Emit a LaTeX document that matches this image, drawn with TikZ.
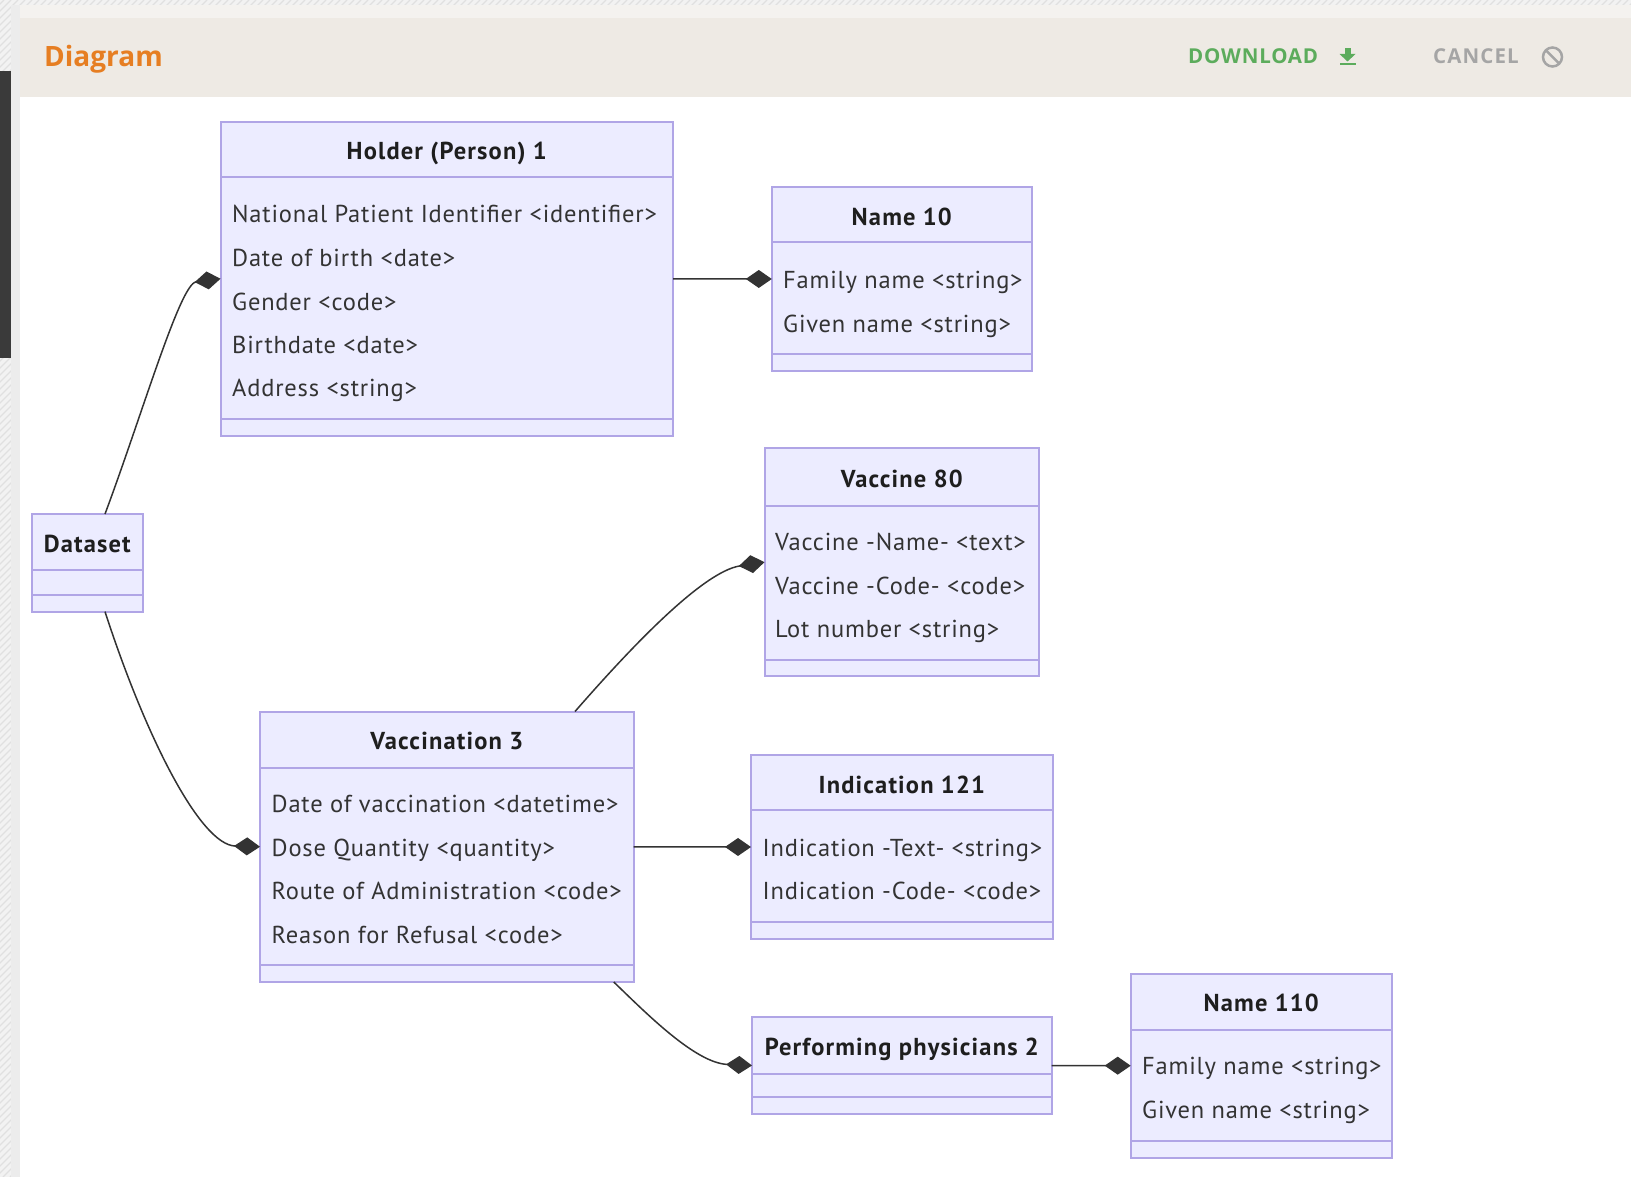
\documentclass[tikz,border=0pt]{standalone}
\usepackage{fontspec}
\setmainfont{PT Sans}
\newfontfamily\attrfamily[LetterSpace=3.3]{PT Sans}
\newfontfamily\titlefamily[LetterSpace=4.7]{PT Sans}
\newfontfamily\hdrfont{Open Sans}
\newfontfamily\btnfont[LetterSpace=4]{Open Sans}
\newfontfamily\btnfontb[LetterSpace=5.5]{Open Sans}
\usetikzlibrary{arrows.meta}
\definecolor{hatchbg}{RGB}{242,242,242}
\definecolor{hatchln}{RGB}{224,224,224}
\definecolor{panelband}{RGB}{236,236,236}
\definecolor{topband}{RGB}{244,242,239}
\definecolor{hdrbg}{RGB}{238,234,228}
\definecolor{darkbar}{RGB}{58,58,58}
\definecolor{hdrorange}{RGB}{230,126,34}
\definecolor{btngreen}{RGB}{92,172,92}
\definecolor{btngrey}{RGB}{165,165,165}
\definecolor{boxfill}{RGB}{236,236,255}
\definecolor{boxline}{RGB}{176,165,230}
\definecolor{attrcol}{RGB}{51,51,51}
\definecolor{titlecol}{RGB}{30,30,30}
\definecolor{conncol}{RGB}{51,51,51}
\newcommand\attrfnt{\attrfamily\fontsize{24.5}{28}\selectfont}
\newcommand\titlefnt{\titlefamily\bfseries\fontsize{24.5}{28}\selectfont}
\begin{document}
\begin{tikzpicture}[x=1pt,y=-1pt,
  classbox/.style={draw=boxline, fill=boxfill, line width=2pt, inner sep=0pt, outer sep=0pt},
  divider/.style={draw=boxline, line width=2pt},
  ttl/.style={anchor=base, yshift=-8.8pt, inner sep=0pt, font=\titlefnt, text=titlecol},
  attr/.style={anchor=base west, yshift=-9.5pt, inner sep=0pt, font=\attrfnt, text=attrcol},
  conn/.style={draw=conncol, line width=1.5pt, -{Diamond[length=26pt,width=18pt]}},
  btn/.style={anchor=base west, inner sep=0pt}
]
\useasboundingbox (0,0) rectangle (1631,1177);
% ---------- page background ----------
\fill[hatchbg] (0,0) rectangle (1631,1177);
\begin{scope}
  \clip (0,0) rectangle (11,1177) (0,0) rectangle (1631,5);
  \foreach \i in {-1180,-1173,...,1640} \draw[hatchln, line width=1.2pt] (\i,1177) -- ++(1177,-1177);
\end{scope}
\fill[panelband] (11,5) rectangle (20,1177);
\fill[topband] (20,5) rectangle (1631,18);
\fill[hdrbg] (20,18) rectangle (1631,97);
\fill[white] (20,97) rectangle (1631,1177);
\fill[darkbar] (0,71) rectangle (11,358);
% ---------- header ----------
\node[anchor=base west, inner sep=0pt, font=\hdrfont\bfseries\fontsize{28}{32}\selectfont, text=hdrorange] (hdr) at (44,67) {Diagram};
\node[btn, font=\btnfont\bfseries\fontsize{20.5}{24}\selectfont, text=btngreen] (dl) at (1188,63.3) {DOWNLOAD};
\node[btn, font=\btnfontb\bfseries\fontsize{20.5}{24}\selectfont, text=btngrey] (cn) at (1433,63.3) {CANCEL};
% download icon
\fill[btngreen] (1344.5,48) rectangle (1350.5,55);
\fill[btngreen] (1339.5,54) -- (1355.5,54) -- (1347.5,61.5) -- cycle;
\fill[btngreen] (1339.5,63) rectangle (1355.5,65.5);
% cancel icon
\draw[btngrey, line width=2.5pt] (1552.5,57) circle[radius=9.5];
\draw[btngrey, line width=2.5pt] (1545.8,50.3) -- (1559.2,63.7);
% ---------- Holder (Person) 1 ----------
\node[classbox, minimum width=452.5pt, minimum height=314.1pt] (holder) at (446.75,278.75) {};
\draw[divider] (220.5,176.8) -- (673,176.8);
\draw[divider] (220.5,419) -- (673,419);
\node[ttl] (holderT) at (446.75,150.8) {Holder (Person) 1};
\node[attr] (h1) at (232,213) {National Patient Identifier <identifier>};
\node[attr] (h2) at (232,257) {Date of birth <date>};
\node[attr] (h3) at (232,300.6) {Gender <code>};
\node[attr] (h4) at (232,344) {Birthdate <date>};
\node[attr] (h5) at (232,387) {Address <string>};
% ---------- Name 10 ----------
\node[classbox, minimum width=260pt, minimum height=184pt] (nameA) at (901.8,279) {};
\draw[divider] (771.8,242.4) -- (1031.8,242.4);
\draw[divider] (771.8,353.7) -- (1031.8,353.7);
\node[ttl] (nameAT) at (901.8,216.4) {Name 10};
\node[attr] (na1) at (783,278.8) {Family name <string>};
\node[attr] (na2) at (783,322.5) {Given name <string>};
% ---------- Vaccine 80 ----------
\node[classbox, minimum width=274.5pt, minimum height=227.7pt] (vaccine) at (901.75,562.15) {};
\draw[divider] (764.5,505.5) -- (1039,505.5);
\draw[divider] (764.5,659.5) -- (1039,659.5);
\node[ttl] (vaccineT) at (901.75,478.5) {Vaccine 80};
\node[attr] (v1) at (775,541) {Vaccine -Name- <text>};
\node[attr] (v2) at (775,584.6) {Vaccine -Code- <code>};
\node[attr] (v3) at (775,628.3) {Lot number <string>};
% ---------- Dataset ----------
\node[classbox, minimum width=110.5pt, minimum height=97.6pt] (dataset) at (87.25,562.8) {};
\draw[divider] (32,570) -- (142.5,570);
\draw[divider] (32,595) -- (142.5,595);
\node[ttl] (datasetT) at (87.25,544) {Dataset};
% ---------- Vaccination 3 ----------
\node[classbox, minimum width=373.5pt, minimum height=270.5pt] (vaccination) at (446.75,846.75) {};
\draw[divider] (260,767.7) -- (633.5,767.7);
\draw[divider] (260,965.3) -- (633.5,965.3);
\node[ttl] (vaccinationT) at (446.75,740.6) {Vaccination 3};
\node[attr] (va1) at (271.5,803) {Date of vaccination <datetime>};
\node[attr] (va2) at (271.5,846.7) {Dose Quantity <quantity>};
\node[attr] (va3) at (271.5,890.4) {Route of Administration <code>};
\node[attr] (va4) at (271.5,934) {Reason for Refusal <code>};
% ---------- Indication 121 ----------
\node[classbox, minimum width=301.7pt, minimum height=184pt] (indication) at (901.85,847) {};
\draw[divider] (751,810) -- (1052.7,810);
\draw[divider] (751,921.6) -- (1052.7,921.6);
\node[ttl] (indicationT) at (901.85,784.3) {Indication 121};
\node[attr] (i1) at (762.5,846.7) {Indication -Text- <string>};
\node[attr] (i2) at (762.5,890.4) {Indication -Code- <code>};
% ---------- Performing physicians 2 ----------
\node[classbox, minimum width=299.6pt, minimum height=97pt] (perform) at (901.8,1065.5) {};
\draw[divider] (752,1073.5) -- (1051.6,1073.5);
\draw[divider] (752,1097.4) -- (1051.6,1097.4);
\node[ttl] (performT) at (901.8,1046.4) {Performing physicians 2};
% ---------- Name 110 ----------
\node[classbox, minimum width=261.1pt, minimum height=184.2pt] (nameB) at (1261.25,1065.7) {};
\draw[divider] (1130.7,1029.8) -- (1391.8,1029.8);
\draw[divider] (1130.7,1141) -- (1391.8,1141);
\node[ttl] (nameBT) at (1261.25,1002.8) {Name 110};
\node[attr] (nb1) at (1142,1065) {Family name <string>};
\node[attr] (nb2) at (1142,1108.8) {Given name <string>};
% ---------- connectors ----------
\draw[conn] ([xshift=17.75pt]dataset.north) .. controls (142,415) and (180,284) .. (holder.west);
\draw[conn] (holder.east) -- (nameA.west);
\draw[conn] ([xshift=128.25pt]vaccination.north) .. controls (620,660) and (700,572) .. (vaccine.west);
\draw[conn] ([xshift=17.75pt]dataset.south) .. controls (145,735) and (200,845) .. (vaccination.west);
\draw[conn] (vaccination.east) -- (indication.west);
\draw[conn] ([xshift=167pt]vaccination.south) .. controls (645,1012) and (695,1063) .. (perform.west);
\draw[conn] (perform.east) -- (nameB.west);
\end{tikzpicture}
\end{document}
